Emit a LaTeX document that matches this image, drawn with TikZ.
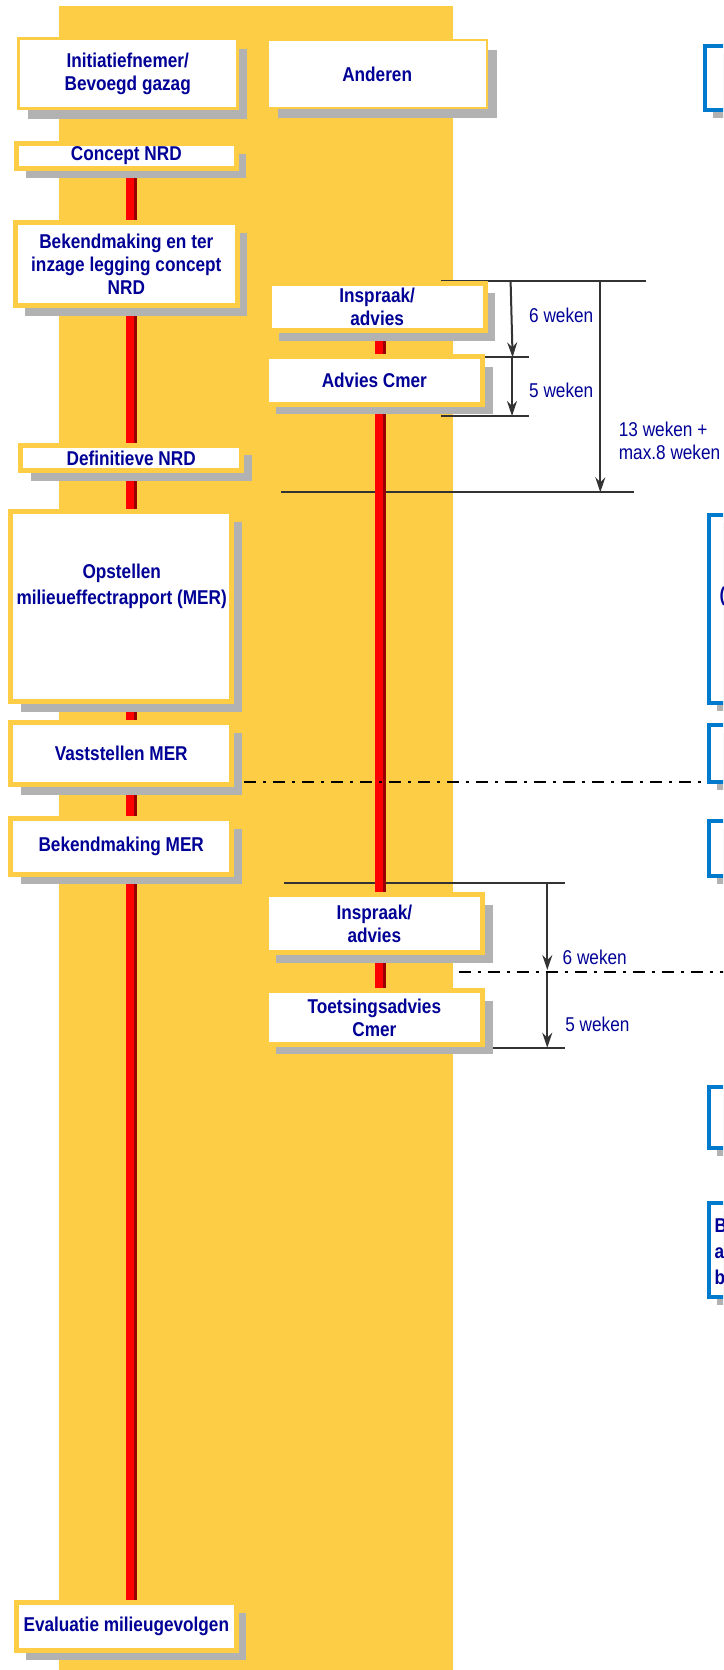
\documentclass[tikz,border=0pt]{standalone}
\usepackage{fontspec}
\setmainfont{Liberation Sans}[FakeStretch=0.86]
\usetikzlibrary{arrows.meta,shadows}
\definecolor{geel}{RGB}{252,205,69}
\definecolor{tekstblauw}{RGB}{0,0,150}
\definecolor{schaduw}{RGB}{178,178,178}
\definecolor{rood}{RGB}{255,0,0}
\definecolor{donkerrood}{RGB}{150,0,0}
\definecolor{kaderblauw}{RGB}{0,122,204}
\definecolor{maatgrijs}{RGB}{51,51,51}
\newcommand{\schrift}{\fontsize{20}{23}\selectfont}
\pgfdeclarelayer{achtergrond}
\pgfdeclarelayer{maten}
\pgfdeclarelayer{lijnen}
\pgfsetlayers{achtergrond,maten,lijnen,main}
\tikzset{
	stap/.style={draw=geel, line width=5pt, fill=white, text=tekstblauw, font=\schrift\bfseries, align=center, inner sep=0pt,
		general shadow={fill=schaduw, shadow xshift=10pt, shadow yshift=-10pt}},
	kader/.style={draw=kaderblauw, line width=4pt, fill=white, anchor=north west, inner sep=0pt, minimum width=100pt,
		general shadow={fill=schaduw, shadow xshift=8pt, shadow yshift=-8pt}},
	maat/.style={draw=maatgrijs, line width=2pt},
	maatpijl/.style={maat, -{Stealth[length=15pt, width=10pt, inset=5pt]}},
	streeplijn/.style={draw=black, line width=2pt, dash pattern=on 12pt off 7pt on 3pt off 7pt},
	weken/.style={text=tekstblauw, font=\schrift, anchor=west, inner sep=0pt, align=left}
}
\begin{document}
\begin{tikzpicture}[x=1pt, y=-1pt]
	\useasboundingbox (0,0) rectangle (723,1670);
	\clip (0,0) rectangle (723,1670);
	\begin{pgfonlayer}{achtergrond}
		\fill[geel] (59,6) rectangle (452.7,1670);
	\end{pgfonlayer}
	% linker kolom
	\node[stap, line width=3pt, minimum width=219.2pt, minimum height=69.7pt] (initiatiefnemer) at (127.7,73.65) {Initiatiefnemer/\\Bevoegd gazag};
	\node[stap, minimum width=220pt, minimum height=24.4pt] (conceptnrd) at (126.3,156) {Concept NRD};
	\node[stap, minimum width=221.8pt, minimum height=83.3pt] (bekendconcept) at (126.3,264.15) {Bekendmaking en ter\\inzage legging concept\\NRD};
	\node[stap, minimum width=220.6pt, minimum height=25.6pt] (definitief) at (131.2,458) {Definitieve NRD};
	\node[stap, minimum width=220.9pt, minimum height=189.7pt] (opstellen) at (121.25,606.65) {};
	\node[text=tekstblauw, font=\schrift\bfseries, align=center, inner sep=0pt] (opstellentekst) at (121.7,586) {Opstellen\\[3pt]milieueffectrapport (MER)};
	\node[stap, minimum width=220.9pt, minimum height=62.3pt] (vaststellen) at (121.25,753.65) {Vaststellen MER};
	\node[stap, minimum width=220.9pt, minimum height=55.7pt] (bekendmer) at (121.25,846.35) {Bekendmaking MER};
	\node[stap, minimum width=220pt, minimum height=47.7pt] (evaluatie) at (126.3,1626.35) {Evaluatie milieugevolgen};
	% rechter kolom
	\node[stap, line width=2pt, minimum width=219.3pt, minimum height=68.6pt] (anderen) at (377.15,74) {Anderen};
	\node[stap, minimum width=216.3pt, minimum height=47.6pt] (inspraakA) at (377.15,307) {Inspraak/\\advies};
	\node[stap, minimum width=216.3pt, minimum height=47.7pt] (adviescmer) at (374.35,380.35) {Advies Cmer};
	\node[stap, minimum width=216.3pt, minimum height=58pt] (inspraakB) at (374.35,923.5) {Inspraak/\\advies};
	\node[stap, minimum width=216.3pt, minimum height=53.4pt] (toetsing) at (374.35,1017.5) {Toetsingsadvies\\Cmer};
	% blauwe kaders
	\node[kader, minimum height=64pt] (kaderA) at (703,44) {};
	\node[kader, minimum height=188pt] (kaderB) at (706.5,512.7) {};
	\node[kader, minimum height=57pt] (kaderC) at (706.5,722.7) {};
	\node[kader, minimum height=55.3pt] (kaderD) at (706.5,818.7) {};
	\node[kader, minimum height=61.6pt] (kaderE) at (706.5,1084.7) {};
	\node[kader, minimum height=93.4pt] (kaderF) at (706.5,1201.3) {};
	\node[text=tekstblauw, font=\schrift\bfseries, anchor=west, inner sep=0pt] (haakje) at (719.5,596) {(};
	\node[text=tekstblauw, font=\fontsize{20}{26}\selectfont\bfseries, anchor=west, align=left, inner sep=0pt] (kadertekst) at (714.5,1251.7) {B\\a\\b};
	% rode lijnen
	\coordinate (linksas) at (131,0);
	\coordinate (linkskern) at (129.5,0);
	\coordinate (rechtsas) at (380.8,0);
	\coordinate (rechtskern) at (379.3,0);
	\begin{pgfonlayer}{lijnen}
		\draw[donkerrood, line width=11pt] (conceptnrd -| linksas) -- (evaluatie -| linksas);
		\draw[rood, line width=8pt] (conceptnrd -| linkskern) -- (evaluatie -| linkskern);
		\draw[donkerrood, line width=11pt] (inspraakA -| rechtsas) -- (toetsing -| rechtsas);
		\draw[rood, line width=8pt] (inspraakA -| rechtskern) -- (toetsing -| rechtskern);
	\end{pgfonlayer}
	% termijnen
	\coordinate (m1l) at (440.8,281.3);
	\coordinate (m1r) at (646.4,281.3);
	\coordinate (m2l) at (452,357.3);
	\coordinate (m2r) at (529,357.3);
	\coordinate (m3l) at (440.8,416);
	\coordinate (m3r) at (529,416);
	\coordinate (m4l) at (281.2,492.3);
	\coordinate (m4r) at (634,492.3);
	\coordinate (m5l) at (283.5,882.7);
	\coordinate (m5r) at (564.8,882.7);
	\coordinate (m6l) at (470,1047.7);
	\coordinate (m6r) at (564.8,1047.7);
	\begin{pgfonlayer}{maten}
		\draw[maat] (m1l) -- (m1r);
		\draw[maat] (m2l) -- (m2r);
		\draw[maat] (m3l) -- (m3r);
		\draw[maat] (m4l) -- (m4r);
		\draw[maat] (m5l) -- (m5r);
		\draw[maat] (m6l) -- (m6r);
		\draw[maatpijl] (510.6,281.3) -- (512.6,357.3);
		\draw[maatpijl] (512,357.3) -- (512,416);
		\draw[maatpijl] (600.3,281.3) -- (600.3,492.3);
		\draw[maatpijl] (547.3,882.7) -- (547.3,970);
		\draw[maatpijl] (547.3,971.7) -- (547.3,1047.7);
	\end{pgfonlayer}
	\node[weken] (zesA) at (529,315) {6 weken};
	\node[weken] (vijfA) at (529,390.7) {5 weken};
	\node[weken] (dertien) at (618.7,440.8) {13 weken +\\max.8 weken};
	\node[weken] (zesB) at (562.5,957.7) {6 weken};
	\node[weken] (vijfB) at (565.2,1024.3) {5 weken};
	% besluitmomenten
	\coordinate (s1l) at (244.4,781.7);
	\coordinate (s2l) at (458.7,971.7);
	\coordinate (s2r) at (730,971.7);
	\draw[streeplijn] (s1l) -- (s1l -| kaderC.west);
	\draw[streeplijn] (s2l) -- (s2r);
\end{tikzpicture}
\end{document}
